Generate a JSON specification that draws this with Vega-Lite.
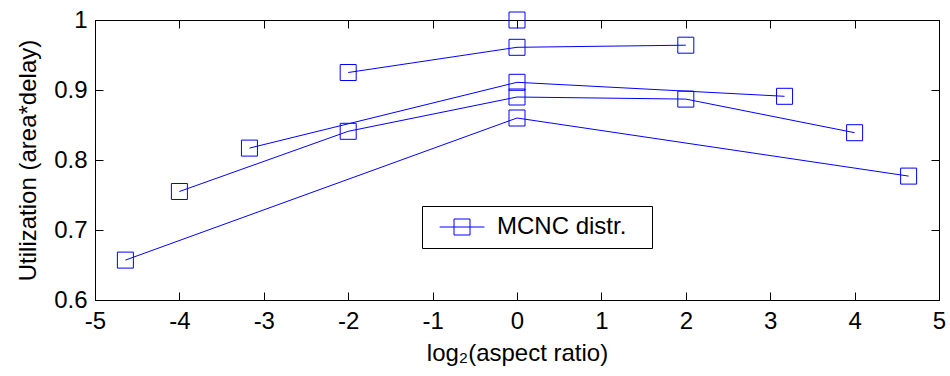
{
  "$schema": "https://vega.github.io/schema/vega-lite/v6.json",
  "width": 844,
  "height": 280,
  "autosize": {"type": "none"},
  "padding": {"left": 95, "top": 20, "right": 11, "bottom": 76},
  "background": "white",
  "config": {
    "font": "Liberation Sans",
    "view": {"stroke": "black", "strokeWidth": 1},
    "axis": {
      "grid": false,
      "domainColor": "black",
      "domainWidth": 1,
      "tickColor": "black",
      "tickWidth": 1,
      "tickSize": -8,
      "labelFontSize": 24,
      "labelColor": "black",
      "titleFontSize": 24,
      "titleFontWeight": "normal",
      "titleColor": "black",
      "labelFont": "Liberation Sans",
      "titleFont": "Liberation Sans"
    }
  },
  "data": {
    "values": [
      {"curve": "A", "series": "MCNC distr.", "x": -2, "y": 0.925},
      {"curve": "A", "series": "MCNC distr.", "x": 0, "y": 0.961},
      {"curve": "A", "series": "MCNC distr.", "x": 2, "y": 0.964},
      {"curve": "B", "series": "MCNC distr.", "x": 0, "y": 1.0},
      {"curve": "C", "series": "MCNC distr.", "x": -3.17, "y": 0.817},
      {"curve": "C", "series": "MCNC distr.", "x": 0, "y": 0.911},
      {"curve": "C", "series": "MCNC distr.", "x": 3.17, "y": 0.891},
      {"curve": "D", "series": "MCNC distr.", "x": -4, "y": 0.755},
      {"curve": "D", "series": "MCNC distr.", "x": -2, "y": 0.841},
      {"curve": "D", "series": "MCNC distr.", "x": 0, "y": 0.890},
      {"curve": "D", "series": "MCNC distr.", "x": 2, "y": 0.887},
      {"curve": "D", "series": "MCNC distr.", "x": 4, "y": 0.839},
      {"curve": "E", "series": "MCNC distr.", "x": -4.64, "y": 0.657},
      {"curve": "E", "series": "MCNC distr.", "x": 0, "y": 0.860},
      {"curve": "E", "series": "MCNC distr.", "x": 4.64, "y": 0.777}
    ]
  },
  "layer": [
    {
      "mark": {"type": "line", "strokeWidth": 1, "clip": false},
      "encoding": {
        "x": {
          "field": "x", "type": "quantitative",
          "scale": {"domain": [-5, 5], "nice": false, "zero": false},
          "axis": {"orient": "bottom", "values": [-5, -4, -3, -2, -1, 0, 1, 2, 3, 4, 5], "labelExpr": "replace(datum.label, '\u2212', '-')", "labelPadding": 17, "title": "log₂(aspect ratio)", "titlePadding": 8, "labelFlush": false}
        },
        "y": {
          "field": "y", "type": "quantitative",
          "scale": {"domain": [0.6, 1], "nice": false, "zero": false},
          "axis": {"orient": "left", "values": [0.6, 0.7, 0.8, 0.9, 1], "format": "~g", "labelPadding": 16, "title": "Utilization (area*delay)", "titlePadding": 13, "labelFlush": false}
        },
        "detail": {"field": "curve"},
        "color": {
          "field": "series", "type": "nominal",
          "scale": {"range": ["#0000ff"]},
          "legend": {
            "orient": "none",
            "legendX": 327,
            "legendY": 186,
            "title": null,
            "symbolType": "M-2.8,0H2.8M-1,-1H1V1H-1ZM22.3,0",
            "symbolSize": 256,
            "symbolStrokeColor": "#0000ff",
            "symbolFillColor": "transparent",
            "symbolStrokeWidth": 1,
            "symbolOffset": 19,
            "labelOffset": 23,
            "labelFontSize": 24,
            "labelColor": "black",
            "labelFont": "Liberation Sans",
            "padding": 9,
            "fillColor": "white",
            "strokeColor": "black",
            "encode": {"symbols": {"update": {"stroke": {"value": "#0000ff"}, "fill": {"value": "transparent"}, "strokeWidth": {"value": 1}}}}
          }
        }
      }
    },
    {
      "mark": {"type": "point", "shape": "square", "size": 256, "filled": false, "color": "#0000ff", "strokeWidth": 1, "opacity": 1, "clip": false},
      "encoding": {
        "x": {
          "field": "x", "type": "quantitative",
          "scale": {"domain": [-5, 5], "nice": false, "zero": false},
          "axis": {"orient": "top", "values": [-5, -4, -3, -2, -1, 0, 1, 2, 3, 4, 5], "labels": false, "title": null}
        },
        "y": {
          "field": "y", "type": "quantitative",
          "scale": {"domain": [0.6, 1], "nice": false, "zero": false},
          "axis": {"orient": "right", "values": [0.6, 0.7, 0.8, 0.9, 1], "labels": false, "title": null}
        }
      }
    }
  ],
  "resolve": {"axis": {"x": "independent", "y": "independent"}}
}
